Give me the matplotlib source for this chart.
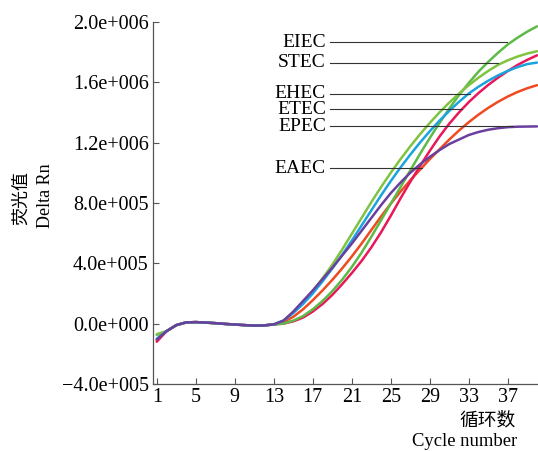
import matplotlib
matplotlib.use('Agg')
import matplotlib.pyplot as plt

plt.rcParams['font.family'] = ['Liberation Serif', 'Noto Sans CJK SC']

cycles = list(range(1, 41))

# values in units of 1e5
base = [-0.5, -0.1, 0.08, 0.1, 0.07, 0.03, -0.02, -0.06, -0.1, -0.13, -0.12, -0.05]

eiec = [-0.75] + base + [0.0, 0.2, 0.5, 0.95, 1.5, 2.15, 2.9, 3.75, 4.7, 5.75, 6.85, 7.95, 9.05,
                         10.15, 11.25, 12.3, 13.3, 14.25, 15.15, 15.95, 16.7, 17.35, 17.95,
                         18.5, 18.95, 19.35, 19.7]
stec = [-0.7] + base + [0.2, 0.75, 1.4, 2.15, 3.0, 3.9, 4.9, 5.95, 7.0, 8.05, 9.05, 10.0, 10.9,
                        11.75, 12.55, 13.3, 14.0, 14.65, 15.25, 15.8, 16.3, 16.75, 17.15,
                        17.45, 17.7, 17.9, 18.05]
ehec = [-1.0] + base + [0.2, 0.7, 1.3, 2.0, 2.8, 3.65, 4.55, 5.5, 6.5, 7.5, 8.5, 9.45, 10.35,
                        11.2, 12.0, 12.75, 13.45, 14.1, 14.7, 15.25, 15.7, 16.1, 16.45,
                        16.75, 17.0, 17.2, 17.3]
etec = [-1.2] + base + [0.0, 0.15, 0.4, 0.8, 1.3, 1.9, 2.6, 3.35, 4.15, 5.05, 6.05, 7.15, 8.3,
                        9.4, 10.45, 11.45, 12.4, 13.25, 14.0, 14.68, 15.28, 15.82, 16.3,
                        16.74, 17.14, 17.48, 17.78]
epec = [-1.05] + base + [0.2, 0.8, 1.5, 2.2, 2.95, 3.7, 4.5, 5.3, 6.15, 7.0, 7.85, 8.65, 9.35,
                         10.0, 10.55, 11.05, 11.5, 11.9, 12.2, 12.5, 12.7, 12.85, 12.95,
                         13.02, 13.05, 13.06, 13.07]
eaec = [-1.1] + base + [0.1, 0.45, 0.95, 1.55, 2.2, 2.9, 3.65, 4.45, 5.3, 6.2, 7.1, 7.95, 8.75,
                        9.5, 10.2, 10.9, 11.55, 12.2, 12.8, 13.35, 13.85, 14.3, 14.7,
                        15.05, 15.35, 15.6, 15.8]

names = ['EIEC', 'STEC', 'EHEC', 'ETEC', 'EPEC', 'EAEC']
series = [eiec, stec, ehec, etec, epec, eaec]
colors = ['#5dba47', '#80c341', '#1ca3df', '#e8185a', '#6a3f9e', '#f04a20']
draw_order = [5, 3, 0, 1, 2, 4]

# label row (value, 1e5) and the cycle where each leader line ends
label_y = [18.65, 17.3, 15.25, 14.2, 13.07, 10.3]
label_end = [36.9, 35.97, 33.1, 32.3, 37.5, 28.2]

yticks = [-4e5, 0, 4e5, 8e5, 1.2e6, 1.6e6, 2.0e6]
ytick_labels = ['\u22124.0e+005', '0.0e+000', '4.0e+005', '8.0e+005',
                '1.2e+006', '1.6e+006', '2.0e+006']
xticks = [1, 5, 9, 13, 17, 21, 25, 29, 33, 37]

fig = plt.figure(figsize=(5.38, 4.51), dpi=100)
ax = fig.add_axes([0.284, 0.1486, 0.716, 0.803])

for i in draw_order:
    ax.plot(cycles, [v * 1e5 for v in series[i]], color=colors[i], lw=1.8,
            solid_capstyle='round', solid_joinstyle='round', zorder=2)

lab_x = (330 - 153) / 9.75 + 0.59
for n, yv, xe in zip(names, label_y, label_end):
    ax.plot([lab_x, xe], [yv * 1e5, yv * 1e5], color='#333333', lw=0.8, zorder=3)
    ax.text(lab_x - 0.4, yv * 1e5, n, ha='right', va='center', fontsize=14)

ax.set_xlim(0.59, 40.1)
ax.set_ylim(-4e5, 2.0e6)
ax.set_xticks(xticks)
ax.set_xticklabels([str(t) for t in xticks])
ax.set_yticks(yticks)
ax.set_yticklabels(ytick_labels)
ax.tick_params(direction='in', length=4, width=0.8, labelsize=14.5, color='#555555')
ax.tick_params(axis='x', pad=3)
ax.tick_params(axis='y', pad=3)
for s in ['top', 'right']:
    ax.spines[s].set_visible(False)
for s in ['left', 'bottom']:
    ax.spines[s].set_color('#555555')
    ax.spines[s].set_linewidth(0.9)

fig.text(21 / 538, 1 - 198 / 451, '荧光值', rotation=90, ha='center', va='center',
         fontsize=13, family=['Noto Sans CJK SC', 'DejaVu Sans'])
fig.text(45 / 538, 1 - 196 / 451, 'Delta Rn', rotation=90, ha='center', va='center',
         fontsize=13)
fig.text(516 / 538, 1 - 420 / 451, '循环数', ha='right', va='center',
         fontsize=13.5, family=['Noto Sans CJK SC', 'DejaVu Sans'])
fig.text(517 / 538, 1 - 442 / 451, 'Cycle number', ha='right', va='center',
         fontsize=13.4)

fig.savefig('out.png', dpi=100)
